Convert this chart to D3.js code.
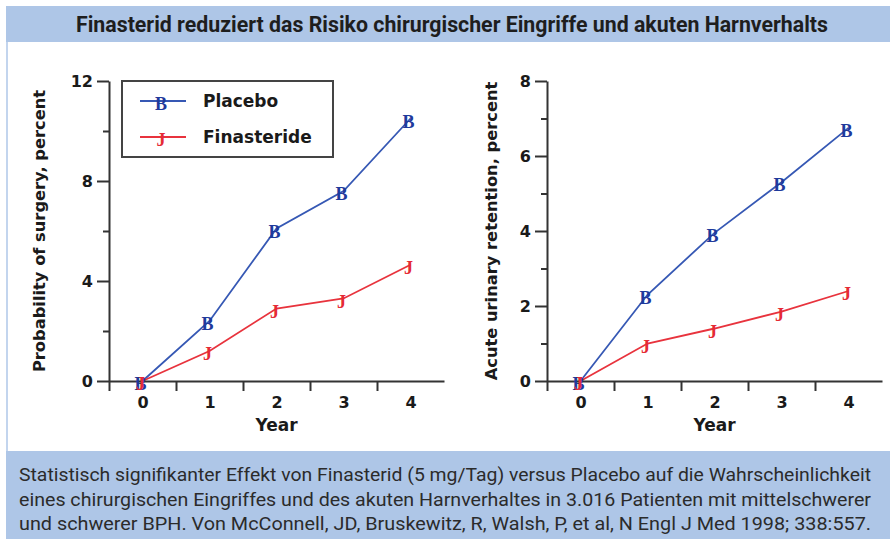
<!DOCTYPE html>
<html>
<head>
<meta charset="utf-8">
<script src="https://cdn.jsdelivr.net/npm/d3@7"></script>
<style>
  body { margin: 0; background: #fff; }
  svg { display: block; }
  .tick text { font-family: "DejaVu Sans", Verdana, sans-serif; font-weight: bold; }
</style>
</head>
<body>
<svg id="chart" width="890" height="539"></svg>
<script>
// data
var years = [0, 1, 2, 3, 4];
var seriesNames = ["Placebo", "Finasteride"];
var seriesGlyphs = ["B", "J"];
var surgeryPlacebo = [0, 2.4, 6.1, 7.6, 10.5];
var surgeryFinasteride = [0, 1.2, 2.9, 3.3, 4.65];
var retentionPlacebo = [0, 2.3, 3.95, 5.3, 6.75];
var retentionFinasteride = [0, 1.0, 1.4, 1.85, 2.4];
var surgeryTicks = [0, 4, 8, 12];
var surgeryMinor = [2, 6, 10];
var retentionTicks = [0, 2, 4, 6, 8];
var retentionMinor = [1, 3, 5, 7];
var titleText = "Finasterid reduziert das Risiko chirurgischer Eingriffe und akuten Harnverhalts";
var footerLines = [
  "Statistisch signifikanter Effekt von Finasterid (5 mg/Tag) versus Placebo auf die Wahrscheinlichkeit",
  "eines chirurgischen Eingriffes und des akuten Harnverhaltes in 3.016 Patienten mit mittelschwerer",
  "und schwerer BPH. Von McConnell, JD, Bruskewitz, R, Walsh, P, et al, N Engl J Med 1998; 338:557."
];

var colors = ["#3658b4", "#e8333d"];
var glyphColors = ["#1f3a9c", "#e52a35"];
var band = "#aec6e7";
var narrow = '"Liberation Sans Narrow", "Arial Narrow", "Roboto", sans-serif';

var svg = d3.select("#chart");

// header / footer bands
svg.append("rect").attr("x", 6).attr("y", 6).attr("width", 884).attr("height", 36).attr("fill", band);
svg.append("rect").attr("x", 6).attr("y", 451).attr("width", 884).attr("height", 88).attr("fill", band);
svg.append("rect").attr("x", 6).attr("y", 42).attr("width", 2).attr("height", 409).attr("fill", "#c3d5ee");

svg.append("text")
  .attr("x", 76).attr("y", 32)
  .attr("textLength", 752).attr("lengthAdjust", "spacingAndGlyphs")
  .style("font-family", narrow).style("font-weight", "bold").style("font-size", "22px")
  .attr("fill", "#1e1e1e")
  .text(titleText);

svg.selectAll(".foot").data(footerLines).enter().append("text")
  .attr("class", "foot")
  .attr("x", 19).attr("y", function (d, i) { return 481 + i * 24.5; })
  .attr("textLength", 852).attr("lengthAdjust", "spacingAndGlyphs")
  .style("font-family", narrow).style("font-size", "19px")
  .attr("fill", "#2b2b2b")
  .text(function (d) { return d; });

function drawPanel(opt) {
  var x = d3.scaleLinear().domain([-0.5, 4.5]).range([opt.left, opt.left + 335]);
  var y = d3.scaleLinear().domain([0, opt.max]).range([381, 81]);
  var g = svg.append("g");

  // y axis, major ticks with labels
  var ya = g.append("g").attr("transform", "translate(" + opt.left + ",0)")
    .call(d3.axisLeft(y).tickValues(opt.ticks).tickSize(12).tickPadding(4).tickSizeOuter(0));
  ya.select(".domain").attr("stroke", "#333").attr("stroke-width", 2);
  ya.selectAll(".tick line").attr("stroke", "#333").attr("stroke-width", 2);
  ya.selectAll(".tick text").style("font-size", "16px").attr("fill", "#1a1a1a");
  // minor ticks
  var ym = g.append("g").attr("transform", "translate(" + opt.left + ",0)")
    .call(d3.axisLeft(y).tickValues(opt.minor).tickSize(6).tickFormat(""));
  ym.select(".domain").remove();
  ym.selectAll(".tick line").attr("stroke", "#333").attr("stroke-width", 2);

  // x axis: ticks between years, labels on years
  var xa = g.append("g").attr("transform", "translate(0,381)")
    .call(d3.axisBottom(x).tickValues([-0.5, 0.5, 1.5, 2.5, 3.5]).tickSize(10).tickFormat("").tickSizeOuter(0));
  xa.select(".domain").attr("stroke", "#333").attr("stroke-width", 2);
  xa.selectAll(".tick line").attr("stroke", "#333").attr("stroke-width", 2);
  var xl = g.append("g").attr("transform", "translate(0,381)")
    .call(d3.axisBottom(x).tickValues(years).tickSize(0).tickPadding(16).tickFormat(d3.format("d")));
  xl.select(".domain").remove();
  xl.selectAll(".tick text").style("font-size", "16px").attr("fill", "#1a1a1a");

  g.append("text")
    .attr("x", x(2)).attr("y", 431).attr("text-anchor", "middle")
    .style("font-family", "DejaVu Sans, Verdana, sans-serif").style("font-weight", "bold").style("font-size", "17px")
    .attr("fill", "#1a1a1a").text("Year");

  g.append("text")
    .attr("transform", "translate(" + opt.labelX + ",231) rotate(-90)")
    .attr("text-anchor", "middle")
    .style("font-family", "DejaVu Sans, Verdana, sans-serif").style("font-weight", "bold").style("font-size", "16.3px")
    .attr("fill", "#1a1a1a").text(opt.label);

  var line = d3.line().x(function (d, i) { return x(years[i]); }).y(function (d) { return y(d); });
  opt.series.forEach(function (vals, s) {
    g.append("path").datum(vals)
      .attr("d", line).attr("fill", "none")
      .attr("stroke", colors[s]).attr("stroke-width", 1.8);
  });
  opt.series.forEach(function (vals, s) {
    g.selectAll(".m" + s).data(vals).enter().append("text")
      .attr("x", function (d, i) { return x(years[i]) - 2; })
      .attr("y", function (d) { return y(d) + 3; })
      .attr("text-anchor", "middle").attr("dominant-baseline", "central")
      .style("font-family", "Liberation Serif, serif").style("font-weight", "bold").style("font-size", "18px")
      .attr("fill", glyphColors[s])
      .text(seriesGlyphs[s]);
  });
}

drawPanel({
  left: 109, max: 12, ticks: surgeryTicks, minor: surgeryMinor, labelX: 45,
  label: "Probability of surgery, percent",
  series: [surgeryPlacebo, surgeryFinasteride]
});
drawPanel({
  left: 547, max: 8, ticks: retentionTicks, minor: retentionMinor, labelX: 497,
  label: "Acute urinary retention, percent",
  series: [retentionPlacebo, retentionFinasteride]
});

// legend
var lg = svg.append("g");
lg.append("rect").attr("x", 122).attr("y", 81).attr("width", 211).attr("height", 76)
  .attr("fill", "#fff").attr("stroke", "#444").attr("stroke-width", 2);
seriesNames.forEach(function (name, s) {
  var ly = 101 + s * 36;
  lg.append("line").attr("x1", 140).attr("x2", 186).attr("y1", ly).attr("y2", ly)
    .attr("stroke", colors[s]).attr("stroke-width", 1.8);
  lg.append("text").attr("x", 161).attr("y", ly + 3)
    .attr("text-anchor", "middle").attr("dominant-baseline", "central")
    .style("font-family", "Liberation Serif, serif").style("font-weight", "bold").style("font-size", "18px")
    .attr("fill", glyphColors[s]).text(seriesGlyphs[s]);
  lg.append("text").attr("x", 203).attr("y", ly).attr("dominant-baseline", "central")
    .style("font-family", "DejaVu Sans, Verdana, sans-serif").style("font-weight", "bold").style("font-size", "17px")
    .attr("fill", "#1a1a1a").text(name);
});
</script>
</body>
</html>
